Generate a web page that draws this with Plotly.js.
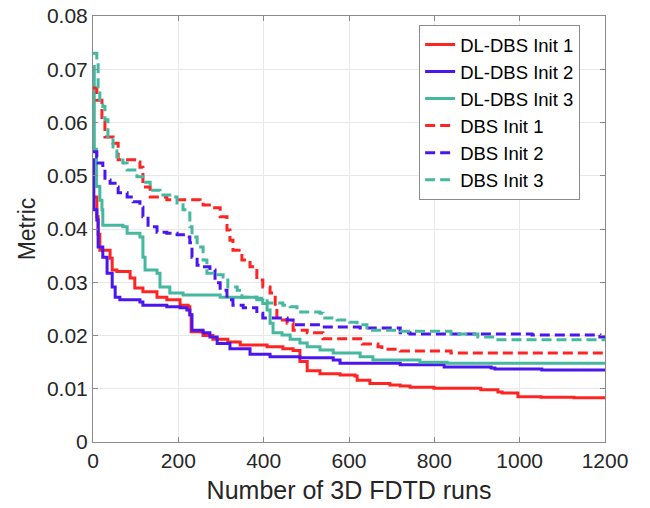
<!DOCTYPE html>
<html>
<head>
<meta charset="utf-8">
<script src="https://cdn.plot.ly/plotly-3.0.1.min.js"></script>
<style>html,body{margin:0;padding:0;background:#fff;}#chart{width:650px;height:508px;}</style>
</head>
<body>
<div id="chart"></div>
<script>
// Series (x = number of 3D FDTD runs, y = metric)
const dl1_x = [0, 9, 12, 16, 40, 45, 56, 87, 98, 117, 150, 173, 204, 223, 227, 230, 258, 281, 316, 345, 408, 445, 469, 485, 502, 532, 579, 614, 619, 649, 696, 720, 743, 799, 909, 949, 959, 996, 1050, 1127, 1200];
const dl1_y = [0.046, 0.0423, 0.039, 0.036, 0.0345, 0.0323, 0.032, 0.0308, 0.0289, 0.0282, 0.0272, 0.0267, 0.0257, 0.0254, 0.0239, 0.0207, 0.0200, 0.0193, 0.0188, 0.0182, 0.0179, 0.0175, 0.0172, 0.0151, 0.0134, 0.0128, 0.0126, 0.0124, 0.0116, 0.0110, 0.0107, 0.0105, 0.0103, 0.0101, 0.0098, 0.0094, 0.0092, 0.0085, 0.0084, 0.0083, 0.0081];

const dl2_x = [0, 2, 9, 12, 23, 33, 45, 52, 63, 110, 117, 173, 204, 220, 227, 232, 258, 274, 291, 321, 368, 415, 485, 563, 579, 720, 823, 933, 942, 1052, 1200];
const dl2_y = [0.053, 0.0436, 0.0417, 0.0366, 0.0347, 0.0317, 0.0291, 0.0272, 0.0267, 0.0263, 0.0257, 0.0254, 0.0252, 0.0248, 0.0239, 0.021, 0.0205, 0.0197, 0.0185, 0.0175, 0.0165, 0.016, 0.0158, 0.0154, 0.0148, 0.0145, 0.0141, 0.0139, 0.0137, 0.0135, 0.0135];

const dl3_x = [0, 3, 8, 16, 21, 23, 70, 80, 110, 117, 122, 150, 157, 180, 211, 298, 384, 398, 408, 415, 422, 443, 462, 485, 502, 532, 563, 626, 656, 766, 830, 1200];
const dl3_y = [0.0705, 0.055, 0.048, 0.0454, 0.0436, 0.0407, 0.0404, 0.0392, 0.0385, 0.0347, 0.0323, 0.0317, 0.0291, 0.028, 0.0276, 0.0272, 0.0267, 0.026, 0.0248, 0.0223, 0.0205, 0.0201, 0.0193, 0.0186, 0.0179, 0.0173, 0.0167, 0.016, 0.0154, 0.015, 0.0148, 0.0146];

const dbs1_x = [0, 9, 21, 28, 47, 59, 103, 110, 117, 134, 173, 251, 258, 281, 298, 314, 321, 328, 349, 368, 384, 398, 415, 427, 431, 455, 469, 502, 539, 631, 668, 677, 720, 839, 1200];
const dbs1_y = [0.0665, 0.0642, 0.0605, 0.0573, 0.0561, 0.053, 0.0526, 0.0516, 0.0479, 0.046, 0.0455, 0.0451, 0.0445, 0.044, 0.0423, 0.0398, 0.0379, 0.036, 0.0342, 0.0329, 0.0304, 0.0291, 0.028, 0.0254, 0.0229, 0.0223, 0.021, 0.0205, 0.0194, 0.0184, 0.0179, 0.0174, 0.0171, 0.0167, 0.0167];

const dbs2_x = [0, 9, 12, 23, 28, 40, 56, 59, 80, 94, 110, 117, 129, 150, 173, 197, 220, 227, 232, 244, 251, 274, 286, 298, 314, 328, 352, 384, 398, 455, 469, 532, 626, 720, 743, 1029, 1188, 1200];
const dbs2_y = [0.0545, 0.0535, 0.0524, 0.0516, 0.0492, 0.0486, 0.0479, 0.0468, 0.046, 0.0451, 0.0441, 0.0423, 0.0404, 0.0394, 0.0392, 0.0389, 0.0385, 0.0374, 0.0347, 0.0332, 0.0329, 0.0323, 0.0299, 0.0285, 0.0267, 0.0257, 0.0252, 0.0242, 0.0233, 0.0229, 0.022, 0.0216, 0.0214, 0.0205, 0.0203, 0.0201, 0.0197, 0.0197];

const dbs3_x = [0, 9, 12, 16, 23, 28, 35, 47, 56, 70, 80, 103, 117, 134, 157, 180, 197, 211, 220, 227, 232, 244, 258, 267, 281, 305, 316, 338, 349, 384, 408, 445, 462, 478, 532, 539, 572, 602, 619, 642, 720, 839, 902, 949, 1200];
const dbs3_y = [0.073, 0.0712, 0.0661, 0.0637, 0.063, 0.0605, 0.0573, 0.0554, 0.0535, 0.0524, 0.0511, 0.0498, 0.0488, 0.0473, 0.0464, 0.046, 0.0449, 0.0436, 0.043, 0.0404, 0.0385, 0.0366, 0.0342, 0.0317, 0.0314, 0.031, 0.0291, 0.0285, 0.0272, 0.027, 0.0261, 0.0257, 0.0254, 0.0244, 0.0242, 0.0233, 0.0229, 0.0225, 0.022, 0.021, 0.0208, 0.0203, 0.0197, 0.0192, 0.0191];

const names = ['DL-DBS Init 1', 'DL-DBS Init 2', 'DL-DBS Init 3', 'DBS Init 1', 'DBS Init 2', 'DBS Init 3'];

const RED = '#ff2424', BLUE = '#4b16ee', TEAL = '#45b89f';
const DASH = '10px,5px';
const FONT = 'Liberation Sans, Arial, Helvetica, sans-serif';

function tr(x, y, name, color, dash) {
  return {x: x, y: y, name: name, type: 'scatter', mode: 'lines',
          line: {color: color, width: 3, shape: 'hv', dash: dash}};
}

const data = [
  tr(dl1_x, dl1_y, names[0], RED, 'solid'),
  tr(dl2_x, dl2_y, names[1], BLUE, 'solid'),
  tr(dl3_x, dl3_y, names[2], TEAL, 'solid'),
  tr(dbs1_x, dbs1_y, names[3], RED, DASH),
  tr(dbs2_x, dbs2_y, names[4], BLUE, DASH),
  tr(dbs3_x, dbs3_y, names[5], TEAL, DASH)
];

const axisCommon = {
  showgrid: true, gridcolor: '#e8e8e8', gridwidth: 1,
  zeroline: false, showline: true, mirror: 'ticks', linecolor: '#8a8a8a', linewidth: 1,
  ticks: 'inside', ticklen: 5, tickcolor: '#8a8a8a',
  tickfont: {family: FONT, size: 21, color: '#262626'}
};

const layout = {
  width: 650, height: 508,
  margin: {l: 93, r: 45, t: 16, b: 66},
  paper_bgcolor: '#ffffff', plot_bgcolor: '#ffffff',
  font: {family: FONT, color: '#262626'},
  showlegend: true,
  legend: {
    x: 0.637, y: 0.979, xanchor: 'left', yanchor: 'top',
    bgcolor: '#ffffff', bordercolor: '#8a8a8a', borderwidth: 1,
    font: {family: FONT, size: 18.5, color: '#000000'}
  },
  xaxis: Object.assign({}, axisCommon, {
    range: [0, 1200], dtick: 200, tick0: 0,
    title: {text: 'Number of 3D FDTD runs', font: {family: FONT, size: 25, color: '#262626'}, standoff: 10}
  }),
  yaxis: Object.assign({}, axisCommon, {
    range: [0, 0.08], dtick: 0.01, tick0: 0,
    title: {text: 'Metric', font: {family: FONT, size: 23, color: '#262626'}, standoff: 4}
  })
};

Plotly.newPlot('chart', data, layout, {displayModeBar: false, staticPlot: true});
</script>
</body>
</html>
